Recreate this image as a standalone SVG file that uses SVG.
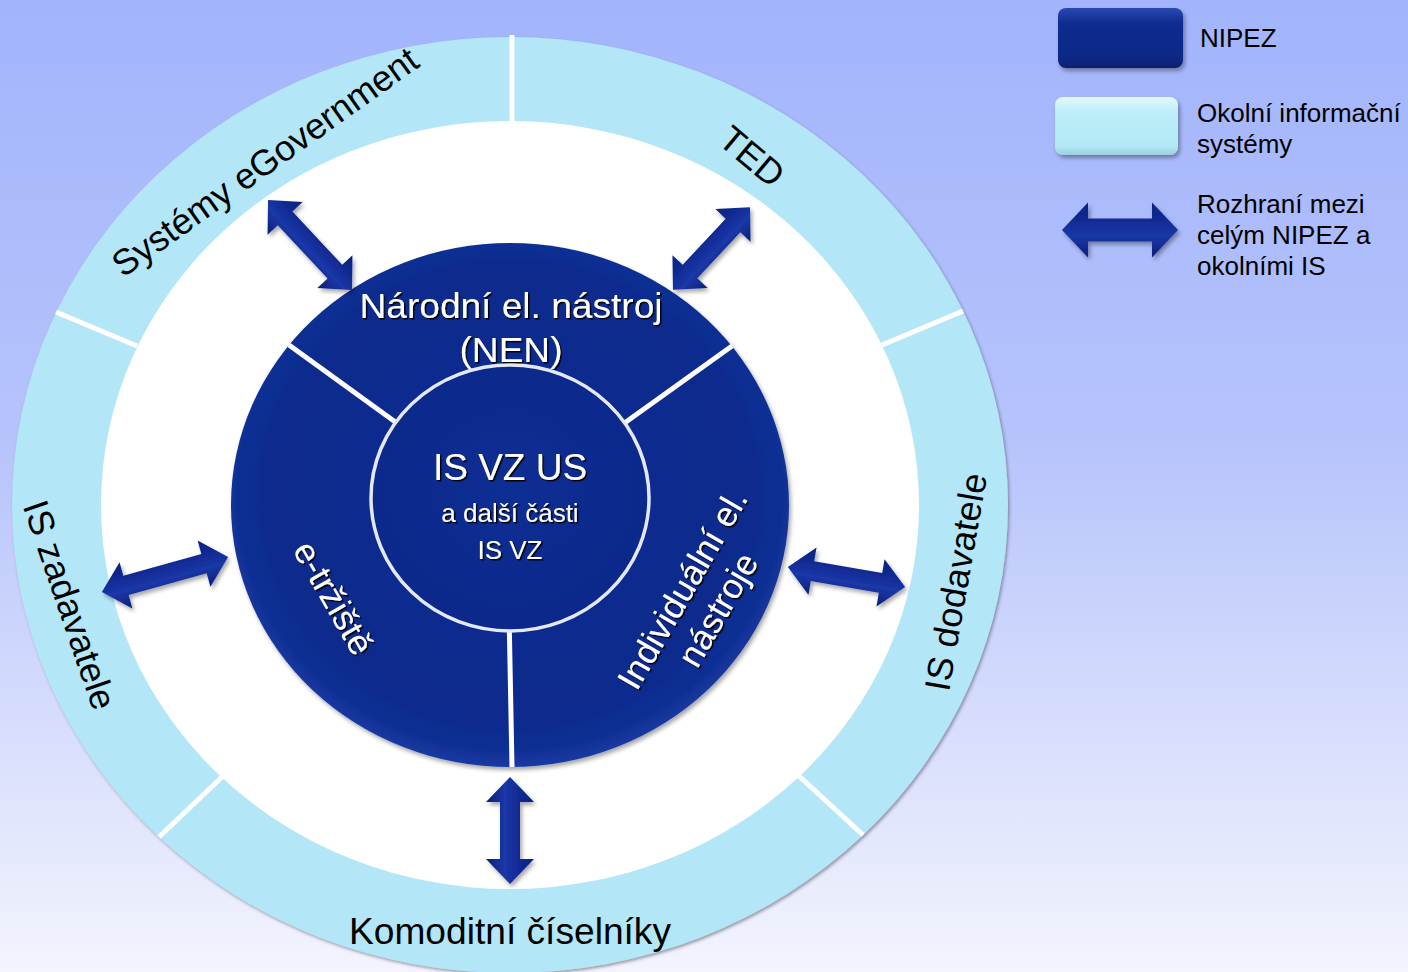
<svg xmlns="http://www.w3.org/2000/svg" width="1408" height="972" viewBox="0 0 1408 972">
  <defs>
    <linearGradient id="bgGrad" x1="0" y1="0" x2="0" y2="1">
      <stop offset="0" stop-color="#a2b4fb"/>
      <stop offset="0.45" stop-color="#b6c3fb"/>
      <stop offset="1" stop-color="#f3f4fd"/>
    </linearGradient>
    <radialGradient id="darkGrad" cx="50%" cy="48%" r="52%">
      <stop offset="0" stop-color="#0e2d92"/>
      <stop offset="0.8" stop-color="#0c2a8c"/>
      <stop offset="0.94" stop-color="#0f2f94"/>
      <stop offset="1" stop-color="#1a3aa2"/>
    </radialGradient>
    <radialGradient id="innerGrad" cx="50%" cy="45%" r="55%">
      <stop offset="0" stop-color="#0f2e94"/>
      <stop offset="1" stop-color="#0b288a"/>
    </radialGradient>
    <linearGradient id="arrowGrad" x1="0" y1="0" x2="0" y2="1">
      <stop offset="0" stop-color="#0b2180"/>
      <stop offset="0.45" stop-color="#142f9c"/>
      <stop offset="0.6" stop-color="#1b38a8"/>
      <stop offset="1" stop-color="#0a1f78"/>
    </linearGradient>
    <linearGradient id="legDark" x1="0" y1="0" x2="0" y2="1">
      <stop offset="0" stop-color="#2a48b2"/>
      <stop offset="0.25" stop-color="#0e2d90"/>
      <stop offset="0.85" stop-color="#0b2886"/>
      <stop offset="1" stop-color="#081e6c"/>
    </linearGradient>
    <linearGradient id="legLight" x1="0" y1="0" x2="0" y2="1">
      <stop offset="0" stop-color="#e4f9fd"/>
      <stop offset="0.25" stop-color="#bdeef9"/>
      <stop offset="0.85" stop-color="#b2e8f6"/>
      <stop offset="1" stop-color="#9ccfe0"/>
    </linearGradient>
    <filter id="shadow" x="-20%" y="-20%" width="140%" height="140%">
      <feDropShadow dx="2" dy="3" stdDeviation="2" flood-color="#000" flood-opacity="0.35"/>
    </filter>
    <filter id="ringShadow" x="-5%" y="-5%" width="110%" height="110%">
      <feDropShadow dx="1.5" dy="2" stdDeviation="1.5" flood-color="#334" flood-opacity="0.45"/>
    </filter>
    <filter id="textShadow" x="-10%" y="-20%" width="120%" height="140%">
      <feDropShadow dx="1.5" dy="1.5" stdDeviation="0.6" flood-color="#000" flood-opacity="0.95"/>
    </filter>
    <style>
      .ringlabel { font-family: "Liberation Sans", Arial, sans-serif; font-size: 36px; fill: #000; text-anchor: middle; }
      .white { font-family: "Liberation Sans", Arial, sans-serif; fill: #fff; text-anchor: middle; }
      .legend { font-family: "Liberation Sans", Arial, sans-serif; font-size: 26px; fill: #000; }
      .divider { stroke: #fff; stroke-width: 5; fill: none; }
      .arrow { fill: url(#arrowGrad); }
    </style>
  </defs>

  <rect id="background" x="0" y="0" width="1408" height="972" fill="url(#bgGrad)"/>

  <g id="outer-ring">
    <ellipse cx="510" cy="505" rx="498" ry="468" fill="#b3e7f8" filter="url(#ringShadow)"/>
    <ellipse cx="510" cy="505" rx="409" ry="384" fill="#ffffff"/>
    <line class="divider" x1="512" y1="35" x2="512" y2="123"/>
    <line class="divider" x1="882" y1="345" x2="963" y2="311"/>
    <line class="divider" x1="137" y1="346" x2="56" y2="312"/>
    <line class="divider" x1="222" y1="777" x2="159" y2="837"/>
    <line class="divider" x1="799" y1="776" x2="863" y2="835"/>
  </g>

  <g id="node-egovernment">
    <text class="ringlabel" transform="translate(272,172) rotate(-35.5)">Systémy eGovernment</text>
  </g>
  <g id="node-ted">
    <text class="ringlabel" transform="translate(744,166) rotate(40)">TED</text>
  </g>
  <g id="node-is-dodavatele">
    <text class="ringlabel" transform="translate(968,584) rotate(-80)">IS dodavatele</text>
  </g>
  <g id="node-komoditni">
    <text class="ringlabel" x="510" y="944" textLength="322" lengthAdjust="spacingAndGlyphs">Komoditní číselníky</text>
  </g>
  <g id="node-is-zadavatele">
    <text class="ringlabel" transform="translate(58,609) rotate(71)">IS zadavatele</text>
  </g>

  <g id="nipez-core">
    <ellipse cx="510" cy="505" rx="279" ry="262" fill="url(#darkGrad)" filter="url(#shadow)"/>
    <line class="divider" x1="510" y1="505" x2="289" y2="345"/>
    <line class="divider" x1="510" y1="505" x2="732" y2="346"/>
    <line class="divider" x1="508" y1="560" x2="512" y2="767"/>
  </g>

  <g id="node-nen" filter="url(#textShadow)">
    <text class="white" x="511" y="318" font-size="35" textLength="303" lengthAdjust="spacingAndGlyphs">Národní el. nástroj</text>
    <text class="white" x="511" y="362" font-size="35" textLength="103" lengthAdjust="spacingAndGlyphs">(NEN)</text>
  </g>

  <g id="node-etrziste" filter="url(#textShadow)">
    <text class="white" font-size="35" transform="translate(323,604) rotate(60)">e-tržiště</text>
  </g>

  <g id="node-individualni" filter="url(#textShadow)">
    <g transform="translate(698,598) rotate(-60)">
      <text class="white" font-size="35" x="0" y="-6">Individuální el.</text>
      <text class="white" font-size="35" x="0" y="35">nástroje</text>
    </g>
  </g>

  <g id="node-is-vz-us">
    <ellipse cx="510" cy="498" rx="139" ry="133" fill="url(#innerGrad)" stroke="#e3e8f3" stroke-width="3.5"/>
    <g filter="url(#textShadow)">
      <text class="white" x="510" y="480" font-size="37">IS VZ US</text>
      <text class="white" x="510" y="522" font-size="26">a další části</text>
      <text class="white" x="510" y="559" font-size="26">IS VZ</text>
    </g>
  </g>

  <g id="connectors">
    <g filter="url(#shadow)">
      <polygon class="arrow" transform="translate(310,245) rotate(47)" points="-61.5,0 -36.5,-24 -36.5,-10 36.5,-10 36.5,-24 61.5,0 36.5,24 36.5,10 -36.5,10 -36.5,24"/>
    </g>
    <g filter="url(#shadow)">
      <polygon class="arrow" transform="translate(711.5,248.5) rotate(-47)" points="-56.5,0 -31.5,-24 -31.5,-10 31.5,-10 31.5,-24 56.5,0 31.5,24 31.5,10 -31.5,10 -31.5,24"/>
    </g>
    <g filter="url(#shadow)">
      <polygon class="arrow" transform="translate(165,574.5) rotate(-15.5)" points="-65.5,0 -40.5,-24 -40.5,-10 40.5,-10 40.5,-24 65.5,0 40.5,24 40.5,10 -40.5,10 -40.5,24"/>
    </g>
    <g filter="url(#shadow)">
      <polygon class="arrow" transform="translate(846.5,577) rotate(9.7)" points="-59.5,0 -34.5,-24 -34.5,-10 34.5,-10 34.5,-24 59.5,0 34.5,24 34.5,10 -34.5,10 -34.5,24"/>
    </g>
    <g filter="url(#shadow)">
      <polygon class="arrow" transform="translate(510,830.5) rotate(90)" points="-53.5,0 -28.5,-24 -28.5,-10 28.5,-10 28.5,-24 53.5,0 28.5,24 28.5,10 -28.5,10 -28.5,24"/>
    </g>
  </g>

  <g id="legend-nipez">
    <rect x="1058" y="8" width="125" height="60" rx="8" fill="url(#legDark)" filter="url(#shadow)"/>
    <text class="legend" x="1200" y="47">NIPEZ</text>
  </g>
  <g id="legend-okolni">
    <rect x="1055" y="97" width="123" height="58" rx="8" fill="url(#legLight)" filter="url(#shadow)"/>
    <text class="legend" x="1197" y="122">Okolní informační</text>
    <text class="legend" x="1197" y="153">systémy</text>
  </g>
  <g id="legend-rozhrani">
    <g filter="url(#shadow)">
      <polygon class="arrow" transform="translate(1120,230)" points="-58,0 -32,-27.5 -32,-11.5 32,-11.5 32,-27.5 58,0 32,27.5 32,11.5 -32,11.5 -32,27.5"/>
    </g>
    <text class="legend" x="1197" y="213">Rozhraní mezi</text>
    <text class="legend" x="1197" y="244">celým NIPEZ a</text>
    <text class="legend" x="1197" y="275">okolními IS</text>
  </g>
</svg>
